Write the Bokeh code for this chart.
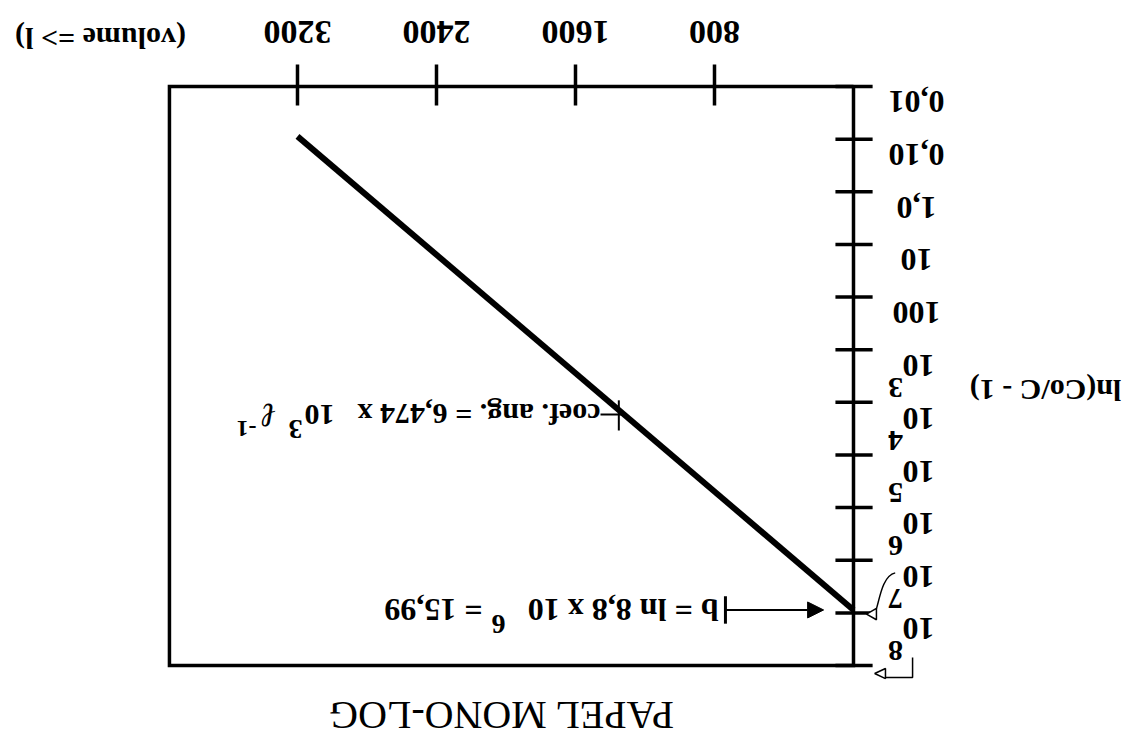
import math

from bokeh.plotting import figure
from bokeh.models import Range1d, Arrow, NormalHead
from bokeh.core.properties import value
from bokeh.embed import file_html
from bokeh.resources import INLINE

LN10 = math.log(10)

# abscissa: volume passed (litres)
volume_ticks = [800, 1600, 2400, 3200]
volume_labels = ["800", "1600", "2400", "3200"]

# ordinate: Co/C - 1 on a log scale, one decade per division
decade_exps = [-3, -2, -1, 0, 1, 2, 3, 4, 5, 6, 7, 8]
label_exps = [-2, -1, 0, 1, 2, 3, 4, 5, 6, 7, 8]
label_base = ["0,01", "0,10", "1,0", "10", "100", "10", "10", "10", "10", "10", "10"]
label_sup = ["", "", "", "", "", "3", "4", "5", "6", "7", "8"]

# straight-line fit  ln(Co/C - 1) = b - a*V
b_intercept = 15.99      # ln(8,8 x 10^6)
a_slope = 6.474e-3       # per litre
fit_volume = [0, 3200]

# extent of the graph paper
frame_volume = [0, 3937]
frame_exps = [-3, 8]

FONT = value("Liberation Serif")
UPSIDE = math.pi   # the sheet is printed rotated by half a turn

p = figure(
    width=1140, height=740,
    x_range=Range1d(4909.35, -1651.8),
    y_range=Range1d(21.700, -10.6697),
    output_backend="svg", toolbar_location=None,
    x_axis_location=None, y_axis_location=None,
    min_border=0, outline_line_color=None,
    background_fill_color="white", border_fill_color="white",
)
p.xgrid.visible = False
p.ygrid.visible = False

ln_top = frame_exps[0] * LN10
ln_bot = frame_exps[1] * LN10
v0, v1 = frame_volume

# paper frame
p.line([v0, v1, v1, v0, v0], [ln_top, ln_top, ln_bot, ln_bot, ln_top],
       line_color="black", line_width=3.5, line_join="miter")

# volume ticks across the frame edge
p.segment(x0=volume_ticks, x1=volume_ticks,
          y0=[ln_top - 0.96] * len(volume_ticks),
          y1=[ln_top + 0.83] * len(volume_ticks),
          line_color="black", line_width=3.5)

# decade ticks across the ordinate
decade_ln = [k * LN10 for k in decade_exps]
p.segment(x0=[104] * len(decade_ln), x1=[-110] * len(decade_ln),
          y0=decade_ln, y1=decade_ln, line_color="black", line_width=3.5)

# fitted line
fit_ln = [b_intercept - a_slope * v for v in fit_volume]
p.line(fit_volume, fit_ln, line_color="black", line_width=6)


def upside_text(x, y, text, size, style="bold", align="center"):
    p.text(x=x, y=y, text=text, angle=UPSIDE,
           text_font=FONT, text_font_size=size, text_font_style=style,
           text_align=align, text_baseline="middle", text_color="black")


# volume tick labels
upside_text(volume_ticks, [-9.3] * len(volume_ticks), volume_labels, "34px")

# decade labels, each written beside its division
plain = [(k, t) for k, t, s in zip(label_exps, label_base, label_sup) if not s]
powers = [(k, t, s) for k, t, s in zip(label_exps, label_base, label_sup) if s]
upside_text([-362] * len(plain),
            [LN10 * (k - 0.5) - 0.48 for k, _ in plain],
            [t for _, t in plain], "32px")
upside_text([-374] * len(powers),
            [LN10 * (k - 0.5) - 0.45 for k, _, _ in powers],
            [t for _, t, _ in powers], "32px")
upside_text([-242] * len(powers),
            [LN10 * (k - 0.5) + 0.5 for k, _, _ in powers],
            [s for _, _, s in powers], "30px")

# axis titles and sheet caption
upside_text([-1105], [6.39], ["ln(Co/C - 1)"], "30px")
upside_text([4334], [-9.0], ["(volume => l)"], "30px")
upside_text([2030], [20.6], ["PAPEL MONO-LOG"], "40px", style="normal")

# slope annotation with its leader to the line
coef_ln = 7.44
coef_v_line = (b_intercept - coef_ln) / a_slope
p.segment(x0=[1456], x1=[coef_v_line], y0=[coef_ln], y1=[coef_ln],
          line_color="black", line_width=2)
p.segment(x0=[coef_v_line + 30], x1=[coef_v_line + 30],
          y0=[coef_ln - 0.62], y1=[coef_ln + 0.7], line_color="black", line_width=2)
upside_text([1456], [coef_ln], ["coef. ang. = 6,474 x"], "30px", align="left")
upside_text([3073], [coef_ln], ["10"], "30px")
upside_text([3212], [coef_ln + 0.62], ["3"], "28px")
upside_text([3370], [coef_ln + 0.05], ["\u2113"], "34px", style="bold italic")
upside_text([3494], [coef_ln + 0.6], ["-1"], "24px")

# intercept annotation with arrow to the ordinate
p.segment(x0=[737], x1=[737], y0=[b_intercept - 0.6], y1=[b_intercept + 0.6],
          line_color="black", line_width=3)
p.add_layout(Arrow(end=NormalHead(size=16, fill_color="black", line_color="black"),
                   x_start=737, y_start=b_intercept, x_end=172, y_end=b_intercept,
                   line_color="black", line_width=2))
upside_text([777], [b_intercept], ["b = ln 8,8 x 10"], "32px", align="left")
upside_text([2043], [b_intercept + 0.6], ["6"], "28px")
upside_text([2135], [b_intercept], ["= 15,99"], "32px", align="left")

# pointers from the 10^7 and 10^8 labels to their divisions
ln7 = 7 * LN10
ln8 = 8 * LN10
p.bezier(x0=[-240], y0=[ln7 - 1.75], x1=[-118], y1=[ln7 + 0.05],
         cx0=[-150], cy0=[ln7 - 1.6], cx1=[-145], cy1=[ln7 - 0.1],
         line_color="black", line_width=1.5)
p.patch([-75, -132, -132, -75], [ln7 + 0.05, ln7 - 0.2, ln7 + 0.3, ln7 + 0.05],
        fill_color="white", line_color="black", line_width=1.5)
p.line([-340, -340, -184], [ln8 - 0.35, ln8 + 0.52, ln8 + 0.52],
       line_color="black", line_width=1.5)
p.patch([-122, -184, -184, -122], [ln8 + 0.35, ln8 + 0.13, ln8 + 0.57, ln8 + 0.35],
        fill_color="white", line_color="black", line_width=1.5)

open("out.html", "w").write(file_html(p, INLINE))
